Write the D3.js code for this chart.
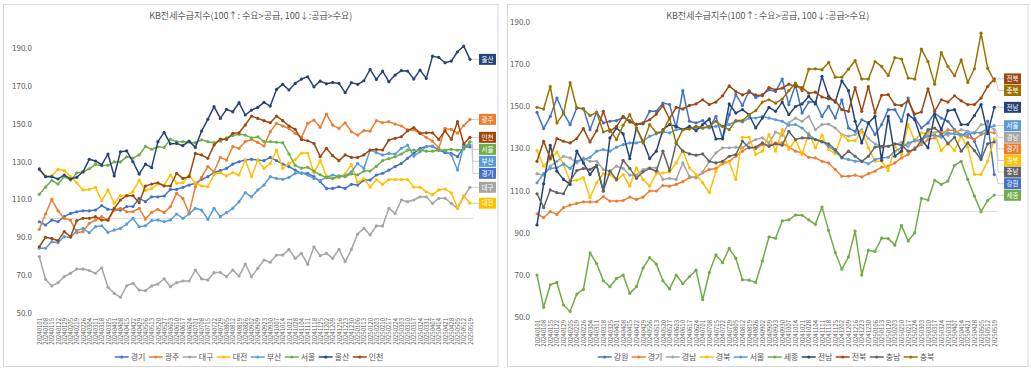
<!DOCTYPE html>
<html>
<head>
<meta charset="utf-8">
<script src="https://cdn.jsdelivr.net/npm/d3@7"></script>
<style>
  body { margin: 0; background: #fff; }
  svg text { font-family: "Noto Sans CJK KR", "Noto Sans", sans-serif; }
</style>
</head>
<body>
<svg id="chart" width="1031" height="371"></svg>
<script>
// weekly survey dates (holiday weeks are missing in the source)
const dates = [
  "20240101","20240108","20240115","20240122","20240129","20240205","20240219","20240226","20240304","20240311",
  "20240318","20240325","20240401","20240408","20240415","20240422","20240429","20240506","20240513","20240520",
  "20240527","20240603","20240610","20240617","20240624","20240701","20240708","20240715","20240722","20240729",
  "20240805","20240812","20240819","20240826","20240902","20240909","20240923","20240930","20241007","20241014",
  "20241021","20241028","20241104","20241111","20241118","20241125","20241202","20241209","20241216","20241223",
  "20241230","20250106","20250113","20250120","20250203","20250210","20250217","20250224","20250303","20250310",
  "20250317","20250324","20250331","20250407","20250414","20250421","20250428","20250505","20250512","20250519"
]
const title = "KB전세수급지수(100↑: 수요>공급, 100↓:공급>수요)"
const yTicks = [50, 70, 90, 110, 130, 150, 170, 190]
const colors = ["#4472C4", "#ED7D31", "#A5A5A5", "#FFC000", "#5B9BD5", "#70AD47", "#264478", "#9E480E", "#636363", "#997300"]

// ---- left chart: metro cities
const leftNames = ["경기", "광주", "대구", "대전", "부산", "서울", "울산", "인천"]
const gyeonggiL = [98.2,96.5,99.1,98.2,100.9,102.6,103.5,104.0,104.0,104.4,106.7,104.8,104.4,104.4,106.2,106.2,110.6,108.8,111.4,111.4,111.8,115.3,115.3,116.4,117.6,118.5,120.6,122.0,124.1,125.2,126.4,128.7,129.9,130.8,131.2,130.8,130.5,132.2,130.5,128.7,127.3,125.5,123.8,123.8,122.0,119.4,115.8,115.8,116.7,115.8,118.0,117.6,120.2,120.2,122.9,123.8,125.5,127.3,129.0,131.7,134.3,137.0,137.9,138.2,136.1,134.7,134.3,132.6,137.5,137.8]
const gwangju = [94.2,102.3,110.0,104.0,100.0,99.1,92.4,93.0,97.4,99.1,100.9,99.1,104.4,105.3,103.5,103.5,105.3,99.6,103.2,104.8,103.0,106.2,113.2,110.6,102.6,116.7,121.7,127.3,124.6,132.2,130.8,137.9,137.0,140.5,141.7,140.1,138.2,145.8,150.2,148.8,147.5,144.9,142.8,150.2,151.9,148.1,155.1,149.3,147.5,150.5,145.8,144.0,146.3,146.1,151.6,150.5,151.1,149.8,148.8,146.7,146.7,144.9,142.8,140.8,137.0,147.5,147.0,145.0,149.0,152.3]
const daegu = [79.8,67.8,64.3,66.0,69.2,71.0,73.2,73.2,72.4,71.0,73.9,63.6,60.4,58.3,64.4,65.7,62.1,61.8,64.3,65.3,68.1,63.9,66.0,66.9,66.9,72.7,68.0,67.4,71.3,71.5,69.2,72.7,69.5,75.9,69.2,73.6,78.0,76.8,80.6,80.6,83.6,78.9,81.5,75.7,85.0,80.3,81.5,78.9,83.6,77.1,83.6,91.7,94.7,91.2,96.0,96.0,105.3,102.6,109.7,108.8,109.7,111.4,111.4,107.9,110.6,110.6,107.9,105.3,111.4,116.4]
const daejeon = [125.5,122.4,122.4,125.9,125.2,122.0,118.8,115.0,115.3,116.4,109.3,115.0,107.9,112.0,112.0,114.1,120.2,114.6,115.8,118.1,117.6,122.9,118.5,118.8,122.9,118.5,117.1,116.7,123.2,124.1,122.4,124.1,122.9,130.8,122.0,130.8,126.4,129.0,136.1,126.4,129.0,131.0,134.5,134.5,124.0,130.5,122.5,121.0,121.5,123.5,128.5,119.0,121.0,116.5,120.5,118.0,120.5,120.5,120.5,120.5,116.5,116.5,114.0,112.5,115.0,115.5,113.5,105.5,112.0,108.0]
const busan = [84.2,84.2,87.7,87.1,90.3,90.0,93.5,94.7,92.4,95.6,96.1,92.6,93.8,94.7,97.0,100.0,95.6,96.1,98.8,99.1,98.2,99.1,102.3,100.0,102.3,105.3,104.4,99.5,105.3,100.9,103.0,105.3,108.8,113.6,111.4,115.0,117.6,122.0,121.1,120.6,121.7,123.8,124.1,122.9,121.1,119.9,121.7,122.9,122.0,122.4,124.6,129.0,126.4,136.1,134.7,133.5,134.3,134.0,137.0,138.7,132.9,135.2,137.9,137.9,136.1,135.7,133.5,125.5,138.5,138.8]
const seoulL = [112.7,116.5,120.0,118.1,122.0,120.2,124.0,124.5,126.2,128.5,127.8,128.0,129.8,129.8,132.5,131.8,133.5,138.0,136.5,137.8,137.5,141.8,140.5,140.5,140.2,140.0,141.5,140.5,140.0,140.8,142.5,143.8,144.4,144.0,142.5,143.0,140.5,140.5,140.2,140.0,134.0,128.0,126.5,127.0,125.0,123.0,121.5,121.0,122.5,122.0,123.5,123.0,125.0,125.0,127.5,130.5,131.5,132.5,134.0,136.0,136.0,136.0,135.5,135.5,136.0,136.0,136.5,136.0,136.5,140.5]
const ulsan = [126.1,122.0,122.0,120.8,122.9,120.8,121.7,124.6,131.2,130.3,128.2,134.0,122.4,135.2,135.6,129.9,123.4,128.7,126.8,140.5,145.4,139.4,139.6,138.4,140.8,137.5,146.1,152.3,159.0,152.8,157.6,156.3,161.1,154.6,157.2,158.6,161.3,159.3,168.1,170.8,167.8,171.3,173.6,174.8,169.5,172.5,171.1,171.8,171.3,166.4,171.7,170.8,172.7,178.7,173.4,177.8,172.2,175.7,178.0,177.8,173.6,178.3,173.9,185.7,185.0,182.2,183.1,188.0,191.0,184.0]
const incheon = [85.0,90.0,89.4,88.2,93.0,90.3,98.8,100.0,100.0,100.9,99.1,99.1,105.3,109.7,112.0,112.0,108.3,117.1,118.1,118.8,117.1,117.1,123.8,121.1,122.0,134.3,133.5,131.7,138.7,141.9,141.7,144.9,145.2,149.3,154.0,152.8,151.6,150.5,154.0,151.6,148.8,147.0,141.7,141.0,139.6,132.6,137.0,133.1,130.5,133.5,132.2,132.2,133.5,136.1,136.4,136.1,141.4,142.3,143.1,146.3,148.0,145.0,145.2,145.2,141.7,146.3,141.7,151.1,139.3,142.8]

// ---- right chart: provinces
const rightNames = ["강원", "경기", "경남", "경북", "서울", "세종", "전남", "전북", "충남", "충북"]
const gangwon = [147.1,139.4,145.2,153.9,146.8,141.3,149.2,148.9,138.9,147.3,142.1,142.9,143.2,144.8,143.2,141.3,141.6,147.6,147.6,151.5,150.8,140.0,157.4,142.9,142.1,143.2,139.7,145.2,134.5,146.0,155.5,150.4,157.4,154.2,155.5,157.8,157.0,162.9,150.8,160.2,146.8,152.0,152.0,145.2,150.0,144.4,153.1,139.7,138.1,143.6,142.1,136.6,141.3,148.4,148.4,142.9,153.9,144.4,139.7,142.1,146.8,144.4,142.9,138.9,135.8,138.1,133.4,125.5,143.0,117.6]
const gyeonggiR = [99.0,97.1,100.0,98.7,101.9,103.1,103.9,104.6,104.6,104.7,107.1,105.0,105.0,105.3,106.9,105.8,106.9,109.8,109.8,112.4,112.1,112.9,114.2,116.1,116.4,118.4,120.0,120.5,122.7,123.9,126.3,128.7,130.6,129.9,131.8,131.5,132.6,132.6,130.6,128.7,127.9,125.8,125.5,123.9,123.1,120.0,116.8,116.8,117.3,116.5,118.0,119.2,121.1,121.6,123.1,125.5,127.1,130.3,131.8,134.2,135.0,136.6,138.9,138.4,136.6,135.3,134.2,136.6,137.8,137.4]
const gyeongnam = [118.0,117.3,121.6,123.9,126.3,125.5,123.1,125.5,123.9,123.9,120.0,119.2,121.6,120.5,117.3,117.3,120.0,120.8,120.8,115.3,115.8,115.3,123.1,116.8,116.0,118.9,123.9,127.9,130.3,130.3,130.6,130.3,132.6,134.2,135.0,132.6,137.8,136.3,142.1,144.4,142.9,145.2,138.9,141.3,141.6,139.7,136.6,135.8,136.6,138.9,134.7,132.2,130.6,131.0,131.8,132.9,131.0,134.2,132.6,138.1,137.4,138.4,136.3,137.4,138.9,138.1,137.4,141.3,141.3,138.9]
const gyeongbuk = [129.0,121.6,124.7,128.4,122.4,114.5,114.9,116.1,106.6,113.7,118.0,117.6,114.8,117.6,112.1,120.8,115.3,112.1,118.0,118.4,118.8,123.1,129.0,120.8,117.6,113.7,109.0,119.2,123.9,123.6,115.3,135.3,135.3,127.1,128.7,136.6,128.7,138.9,129.5,134.2,127.1,137.4,130.3,136.3,129.5,127.4,136.6,133.7,133.7,138.1,130.3,123.9,123.9,119.5,131.0,127.1,141.3,133.4,137.4,136.9,136.9,129.0,132.6,129.0,135.8,130.6,117.6,117.6,124.0,134.5]
const seoulR = [113.7,118.0,120.5,120.8,122.7,120.5,123.9,124.7,125.8,128.7,129.5,128.7,130.6,131.8,132.6,132.6,133.4,135.8,136.9,137.8,137.4,138.9,139.2,139.7,139.7,139.7,140.0,140.5,140.5,141.3,142.9,142.6,144.4,144.4,145.2,144.4,143.6,142.9,141.0,141.3,139.7,136.6,134.2,133.4,131.0,128.7,125.5,124.7,123.9,123.9,122.7,124.7,125.5,125.8,128.7,130.3,132.6,133.7,134.2,135.8,136.3,135.3,137.4,136.9,136.3,136.6,137.4,137.4,139.7,140.8]
const sejong = [69.9,54.6,65.3,66.4,55.7,52.6,60.9,63.1,80.4,75.4,67.2,64.4,68.3,69.9,61.2,64.4,73.2,78.2,75.1,67.2,63.3,69.9,65.9,69.1,72.2,58.2,71.1,79.5,75.8,82.6,77.9,67.7,67.5,66.4,76.6,88.0,87.4,95.6,96.1,98.4,98.3,96.1,94.0,102.2,91.1,80.6,72.7,78.5,90.8,69.9,81.7,81.1,87.4,87.2,84.1,93.5,86.1,90.0,106.3,105.5,114.9,112.9,114.5,122.0,123.9,115.3,107.4,100.0,105.3,107.9]
const jeonnam = [93.7,113.2,131.5,119.2,115.3,112.9,128.7,123.1,117.6,122.0,109.8,135.0,139.7,136.9,125.1,139.7,133.4,125.2,128.7,138.9,141.3,140.5,138.9,140.5,138.4,141.3,144.0,134.5,134.7,151.1,146.8,148.4,146.0,139.7,144.4,149.5,147.6,152.0,146.0,149.9,151.1,154.7,151.1,164.2,154.7,152.0,162.1,157.4,142.9,132.6,142.1,145.2,124.4,145.2,126.3,128.7,146.0,143.6,134.2,130.3,146.0,138.9,147.9,148.4,141.3,141.3,145.6,150.8,137.0,149.5]
const jeonbuk = [123.9,133.4,125.2,134.7,133.4,132.6,134.7,139.4,133.1,138.4,147.6,138.1,140.5,145.2,142.5,141.6,142.1,143.6,146.3,150.3,144.1,149.5,148.7,150.4,151.1,153.1,150.8,152.0,155.0,159.7,157.0,155.4,156.7,155.4,155.0,158.9,157.8,158.6,160.5,159.4,158.9,156.2,156.7,154.4,153.6,152.6,148.4,147.6,158.9,147.6,159.4,146.8,155.2,155.5,150.8,150.4,152.6,146.3,147.3,158.3,147.6,153.1,152.0,155.0,152.6,150.8,150.8,153.9,159.4,163.0]
const chungnam = [108.5,101.9,110.3,109.0,108.5,114.5,119.5,120.5,120.0,122.0,109.8,119.2,115.3,124.4,120.5,115.8,118.9,120.5,119.2,128.7,119.5,132.6,128.7,127.4,126.8,127.4,123.9,123.1,123.9,126.3,127.1,133.4,130.3,130.6,132.6,131.0,132.2,131.5,138.1,134.2,135.0,135.0,134.2,133.1,132.2,129.5,125.8,128.7,126.3,123.9,126.3,130.6,131.0,131.0,132.2,131.5,128.7,129.5,133.7,138.9,139.7,136.9,132.2,135.3,128.7,132.6,129.0,124.7,132.2,133.1]
const chungbuk = [149.5,148.7,159.4,142.1,146.5,161.3,149.2,148.7,145.5,147.1,137.8,138.9,134.2,141.0,146.0,139.7,132.6,141.3,137.4,138.1,144.4,132.6,138.9,139.2,140.5,139.7,140.5,142.9,140.5,138.9,143.2,143.2,146.0,147.9,152.0,153.1,151.5,153.4,157.4,161.0,157.4,167.6,167.8,167.3,170.8,163.8,163.8,167.6,171.7,162.9,162.9,171.2,168.9,164.6,173.1,172.4,163.4,162.9,177.1,171.2,160.5,175.5,168.9,164.5,172.0,161.3,167.8,184.7,168.1,162.0]

const svg = d3.select("#chart")

function drawPanel(cfg) {
  const g = svg.append("g")

  g.append("rect")
    .attr("x", cfg.box[0]).attr("y", cfg.box[1])
    .attr("width", cfg.box[2]).attr("height", cfg.box[3])
    .attr("fill", "#fff").attr("stroke", "#d9d9d9")

  g.append("text")
    .attr("x", cfg.box[0] + cfg.box[2] / 2)
    .attr("y", 19)
    .attr("text-anchor", "middle")
    .attr("font-size", "9px")
    .attr("fill", "#595959")
    .text(title)

  const x = d3.scalePoint().domain(dates).range(cfg.xRange)
  const y = d3.scaleLinear().domain([50, 190]).range(cfg.yRange)

  // Y axis
  const yAxis = g.append("g")
    .attr("transform", `translate(${cfg.axisX},0)`)
    .call(d3.axisLeft(y).tickValues(yTicks).tickFormat(d3.format(".1f")).tickSize(0).tickPadding(3))
  yAxis.select(".domain").remove()
  yAxis.selectAll("text").attr("fill", "#595959").attr("font-size", "8px")

  // X axis (rotated date labels)
  const xAxis = g.append("g")
    .attr("transform", `translate(0,${cfg.xAxisY})`)
    .call(d3.axisBottom(x).tickSize(0).tickPadding(0))
  xAxis.select(".domain").remove()
  xAxis.selectAll("text")
    .attr("fill", "#595959").attr("font-size", "6px")
    .attr("transform", "rotate(-90)")
    .attr("text-anchor", "end")
    .attr("x", -1).attr("y", 0).attr("dy", "0.35em")

  // 100 reference line
  g.append("line")
    .attr("x1", x(dates[0])).attr("x2", x(dates[dates.length - 1]) + 3)
    .attr("y1", y(100)).attr("y2", y(100))
    .attr("stroke", "#d9d9d9").attr("stroke-width", 1)

  const line = d3.line().x((d, i) => x(dates[i])).y(d => y(d))

  cfg.series.forEach((s, k) => {
    const c = colors[k]
    g.append("path").datum(s.values)
      .attr("d", line).attr("fill", "none")
      .attr("stroke", c).attr("stroke-width", 1.5).attr("stroke-linejoin", "round")
    g.append("g").selectAll("circle").data(s.values).join("circle")
      .attr("cx", (d, i) => x(dates[i])).attr("cy", d => y(d))
      .attr("r", 1.6).attr("fill", c)
  })

  // end labels, pushed apart so they do not overlap
  const last = dates[dates.length - 1]
  const ends = cfg.series.map((s, k) => ({ name: s.name, color: colors[k], yv: y(s.values[s.values.length - 1]) }))
    .sort((a, b) => a.yv - b.yv)
  let prev = -Infinity
  ends.forEach(e => { e.yl = Math.max(e.yv, prev + cfg.labelGap); prev = e.yl })
  ends.forEach(e => {
    g.append("polyline")
      .attr("points", `${x(last) + 2},${e.yv} ${cfg.labelX - 6},${e.yl} ${cfg.labelX},${e.yl}`)
      .attr("fill", "none").attr("stroke", "#bfbfbf").attr("stroke-width", 0.8)
    g.append("rect")
      .attr("x", cfg.labelX).attr("y", e.yl - 5.5)
      .attr("width", 17).attr("height", 11).attr("fill", e.color)
    g.append("text")
      .attr("x", cfg.labelX + 8.5).attr("y", e.yl).attr("dy", "0.35em")
      .attr("text-anchor", "middle").attr("font-size", "6.5px").attr("fill", "#fff")
      .text(e.name)
  })

  // legend
  const itemW = 34
  const lx0 = cfg.box[0] + cfg.box[2] / 2 - itemW * cfg.series.length / 2
  const leg = g.append("g").attr("transform", `translate(${lx0},${cfg.legendY})`)
  const items = leg.selectAll("g").data(cfg.series).join("g")
    .attr("transform", (d, i) => `translate(${i * itemW},0)`)
  items.append("line").attr("x1", 0).attr("x2", 14).attr("y1", 0).attr("y2", 0)
    .attr("stroke", (d, i) => colors[i]).attr("stroke-width", 1.5)
  items.append("circle").attr("cx", 7).attr("cy", 0).attr("r", 1.6).attr("fill", (d, i) => colors[i])
  items.append("text").attr("x", 16).attr("y", 0).attr("dy", "0.35em")
    .attr("font-size", "8px").attr("fill", "#595959").text(d => d.name)
}

drawPanel({
  box: [3.5, 4.5, 494.5, 362],
  xRange: [39.3, 470],
  yRange: [313, 48],
  axisX: 35,
  xAxisY: 317,
  labelX: 479,
  labelGap: 12,
  legendY: 357,
  series: [gyeonggiL, gwangju, daegu, daejeon, busan, seoulL, ulsan, incheon].map((v, i) => ({ name: leftNames[i], values: v }))
})

drawPanel({
  box: [507.5, 4.5, 520.5, 362],
  xRange: [537, 994.3],
  yRange: [317, 22],
  axisX: 533,
  xAxisY: 319,
  labelX: 1004,
  labelGap: 11.6,
  legendY: 357,
  series: [gangwon, gyeonggiR, gyeongnam, gyeongbuk, seoulR, sejong, jeonnam, jeonbuk, chungnam, chungbuk].map((v, i) => ({ name: rightNames[i], values: v }))
})
</script>
</body>
</html>
